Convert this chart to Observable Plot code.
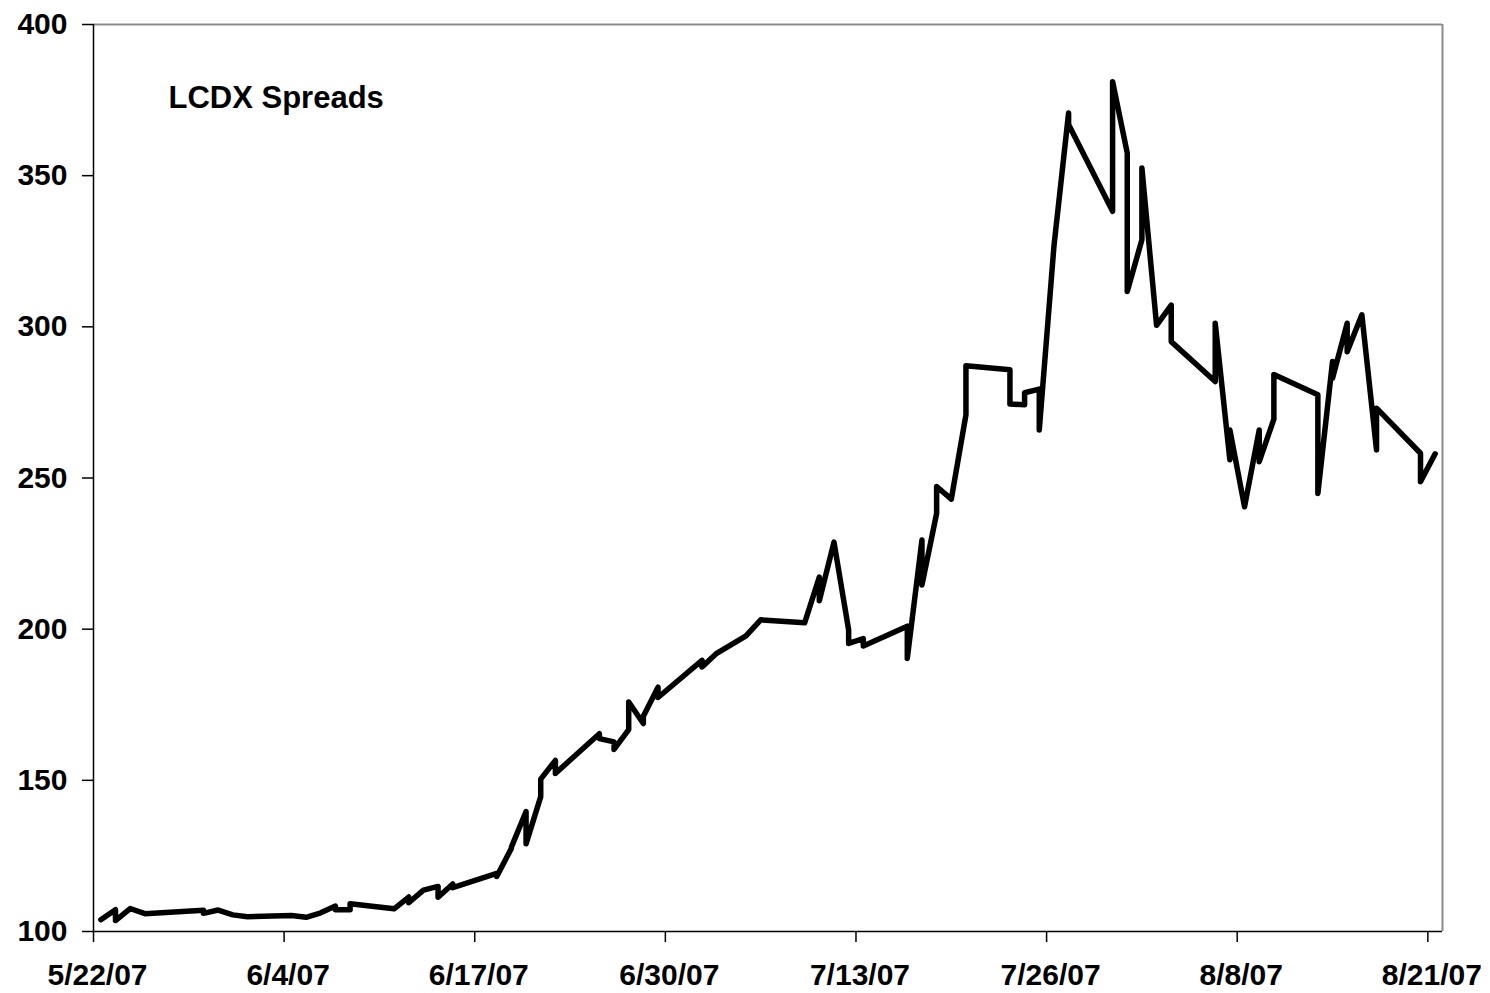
<!DOCTYPE html>
<html>
<head>
<meta charset="utf-8">
<script src="https://cdn.jsdelivr.net/npm/d3@7"></script>
<script src="https://cdn.jsdelivr.net/npm/@observablehq/plot@0.6"></script>
<style>
  body { margin: 0; background: #fff; }
  #chart svg { display: block; }
</style>
</head>
<body>
<div id="chart"></div>
<script>
// ---- data ----
const title = "LCDX Spreads";

const dates = [
  "5/22/07","5/23/07","5/23/07","5/24/07","5/25/07",
  "5/29/07","5/29/07","5/30/07","5/31/07","6/1/07",
  "6/4/07","6/5/07","6/6/07","6/7/07","6/7/07","6/8/07","6/8/07",
  "6/11/07","6/12/07","6/12/07","6/13/07","6/14/07","6/14/07","6/15/07","6/15/07",
  "6/18/07","6/18/07","6/19/07","6/19/07","6/20/07","6/20/07","6/21/07","6/21/07","6/22/07","6/22/07",
  "6/25/07","6/25/07","6/26/07","6/26/07","6/27/07","6/27/07","6/28/07","6/28/07","6/29/07","6/29/07",
  "7/2/07","7/2/07","7/3/07","7/5/07","7/6/07",
  "7/9/07","7/10/07","7/10/07","7/11/07","7/12/07","7/12/07","7/13/07","7/13/07",
  "7/16/07","7/16/07","7/17/07","7/17/07","7/18/07","7/18/07","7/19/07","7/20/07","7/20/07",
  "7/23/07","7/23/07","7/24/07","7/24/07","7/25/07","7/25/07","7/26/07","7/27/07","7/27/07",
  "7/30/07","7/30/07","7/31/07","7/31/07","8/1/07","8/1/07","8/2/07","8/3/07","8/3/07",
  "8/6/07","8/6/07","8/7/07","8/7/07","8/8/07","8/9/07","8/9/07","8/10/07","8/10/07",
  "8/13/07","8/13/07","8/14/07","8/14/07","8/15/07","8/15/07","8/16/07","8/17/07","8/17/07",
  "8/20/07","8/20/07","8/21/07"
];

const spreads = [
  103.9, 107.2, 103.6, 107.6, 105.9,
  107.0, 106.0, 107.1, 105.5, 104.9,
  105.3, 104.7, 106.2, 108.4, 107.2, 107.2, 109.2,
  107.5, 111.4, 109.5, 113.7, 114.9, 111.3, 115.7, 114.5,
  119.2, 118.2, 127.5, 127.9, 139.7, 129.0, 144.6, 150.4, 156.6, 152.3,
  165.4, 163.8, 162.7, 160.2, 166.8, 175.9, 168.8, 171.2, 180.8, 177.4,
  189.7, 187.5, 192.0, 197.8, 203.1,
  202.1, 217.2, 209.4, 228.8, 199.7, 195.3, 196.9, 194.4,
  201.0, 190.3, 229.5, 214.6, 238.3, 247.2, 243.0, 270.9, 287.1,
  285.8, 274.5, 274.2, 278.2, 279.4, 265.9, 326.6, 370.7, 366.9,
  338.2, 381.1, 357.5, 311.7, 328.8, 352.5, 300.5, 307.2, 295.1,
  281.9, 301.2, 256.0, 265.9, 240.5, 265.9, 255.4, 269.5, 284.2,
  277.5, 244.9, 288.5, 283.0, 301.2, 291.8, 304.0, 259.3, 273.1,
  258.2, 248.8, 258.0
];

const yTicks = [100, 150, 200, 250, 300, 350, 400];
const xTickLabels = ["5/22/07","6/4/07","6/17/07","6/30/07","7/13/07","7/26/07","8/8/07","8/21/07"];
const xDomainLabels = ["5/22/07", "8/22/07"];

// ---- build ----
const parse = d3.utcParse("%m/%d/%y");
const xTicks = xTickLabels.map(parse);
const xDomain = xDomainLabels.map(parse);
// each observation is drawn in the middle of its day, as in the reference
const data = dates.map((d, i) => ({date: d3.utcHour.offset(parse(d), 12), value: spreads[i]}));

const chart = Plot.plot({
  width: 1490,
  height: 993,
  marginLeft: 93,
  marginRight: 48,
  marginTop: 24,
  marginBottom: 62,
  style: {
    fontFamily: "'Liberation Sans', Arial, sans-serif",
    fontSize: "30px",
    fontWeight: "bold",
    color: "black",
    background: "white"
  },
  x: {type: "utc", domain: xDomain},
  y: {domain: [yTicks[0], yTicks[yTicks.length - 1]]},
  marks: [
    // grey top and right border of the plot area
    Plot.ruleY([yTicks[yTicks.length - 1]], {stroke: "#8c8c8c", strokeWidth: 2}),
    Plot.ruleX([xDomain[1]], {stroke: "#8c8c8c", strokeWidth: 2}),
    // black axis lines
    Plot.ruleX([xDomain[0]], {stroke: "black", strokeWidth: 1.5}),
    Plot.ruleY([yTicks[0]], {stroke: "black", strokeWidth: 1.5}),
    Plot.axisY({
      ticks: yTicks,
      tickSize: 11,
      tickPadding: 15,
      strokeWidth: 1.5,
      tickFormat: d => String(d),
      label: null
    }),
    // x tick marks
    Plot.axisX({
      ticks: xTicks,
      tickSize: 11,
      strokeWidth: 1.5,
      tickFormat: null,
      text: null,
      label: null
    }),
    // x tick labels (slightly to the right of their ticks, as in the reference)
    Plot.axisX({
      ticks: xTicks,
      tickSize: 0,
      tickPadding: 32,
      dx: 4,
      tickFormat: (d, i) => xTickLabels[i],
      label: null
    }),
    Plot.line(data, {
      x: "date",
      y: "value",
      stroke: "black",
      strokeWidth: 5.5,
      strokeLinejoin: "round",
      strokeLinecap: "round"
    }),
    Plot.text([title], {
      frameAnchor: "top-left",
      textAnchor: "start",
      lineAnchor: "top",
      dx: 75,
      dy: 61,
      fontSize: 31,
      fontWeight: "bold"
    })
  ]
});

document.getElementById("chart").append(chart);
</script>
</body>
</html>
